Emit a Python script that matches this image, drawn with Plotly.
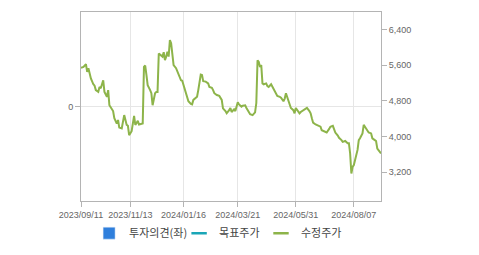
import plotly.graph_objects as go

# KRX weekday closures in the period (used as axis range breaks)
holidays = ["2023-09-28", "2023-09-29", "2023-10-02", "2023-10-03", "2023-10-09",
            "2023-12-25", "2023-12-29", "2024-01-01", "2024-02-09", "2024-02-12",
            "2024-03-01", "2024-04-10", "2024-05-01", "2024-05-06", "2024-05-15",
            "2024-06-06", "2024-08-15"]

dates = ["2023-09-11", "2023-09-13", "2023-09-15", "2023-09-18", "2023-09-19", "2023-09-21",
         "2023-09-25", "2023-09-26", "2023-09-27", "2023-10-05", "2023-10-06", "2023-10-10",
         "2023-10-12", "2023-10-13", "2023-10-17", "2023-10-18", "2023-10-19", "2023-10-23",
         "2023-10-24", "2023-10-25", "2023-10-27", "2023-10-30", "2023-10-31", "2023-11-02",
         "2023-11-03", "2023-11-06", "2023-11-08", "2023-11-09", "2023-11-10", "2023-11-14",
         "2023-11-15", "2023-11-16", "2023-11-17", "2023-11-21", "2023-11-22", "2023-11-27",
         "2023-11-28", "2023-11-29", "2023-11-30", "2023-12-01", "2023-12-05", "2023-12-06",
         "2023-12-07", "2023-12-11", "2023-12-12", "2023-12-13", "2023-12-14", "2023-12-15",
         "2023-12-19", "2023-12-20", "2023-12-21", "2023-12-22", "2023-12-26", "2023-12-27",
         "2023-12-28", "2024-01-02", "2024-01-04", "2024-01-08", "2024-01-10", "2024-01-12",
         "2024-01-15", "2024-01-17", "2024-01-19", "2024-01-22", "2024-01-24", "2024-01-25",
         "2024-01-26", "2024-01-30", "2024-01-31", "2024-02-01", "2024-02-05", "2024-02-06",
         "2024-02-07", "2024-02-13", "2024-02-15", "2024-02-16", "2024-02-20", "2024-02-21",
         "2024-02-22", "2024-02-26", "2024-02-28", "2024-03-04", "2024-03-05", "2024-03-07",
         "2024-03-08", "2024-03-12", "2024-03-13", "2024-03-14", "2024-03-18", "2024-03-19",
         "2024-03-21", "2024-03-22", "2024-03-26", "2024-03-27", "2024-03-29", "2024-04-01",
         "2024-04-03", "2024-04-04", "2024-04-08", "2024-04-11", "2024-04-12", "2024-04-15",
         "2024-04-16", "2024-04-17", "2024-04-18", "2024-04-19", "2024-04-22", "2024-04-24",
         "2024-04-25", "2024-04-26", "2024-04-30", "2024-05-02", "2024-05-07", "2024-05-09",
         "2024-05-13", "2024-05-14", "2024-05-17", "2024-05-20", "2024-05-21", "2024-05-23",
         "2024-05-24", "2024-05-27", "2024-05-29", "2024-05-30", "2024-05-31", "2024-06-04",
         "2024-06-05", "2024-06-07", "2024-06-11", "2024-06-13", "2024-06-14", "2024-06-18",
         "2024-06-19", "2024-06-20", "2024-06-21", "2024-06-25", "2024-06-27", "2024-07-01",
         "2024-07-02", "2024-07-04", "2024-07-08", "2024-07-10", "2024-07-11", "2024-07-15",
         "2024-07-16", "2024-07-17", "2024-07-19", "2024-07-22", "2024-07-24", "2024-07-25",
         "2024-07-29", "2024-07-30", "2024-07-31", "2024-08-01", "2024-08-02", "2024-08-05",
         "2024-08-06", "2024-08-07", "2024-08-08", "2024-08-12", "2024-08-13", "2024-08-14",
         "2024-08-19", "2024-08-20", "2024-08-21", "2024-08-23", "2024-08-26", "2024-08-28",
         "2024-08-29", "2024-09-02", "2024-09-03", "2024-09-04", "2024-09-06", "2024-09-09"]

adj_price = [5540, 5560, 5620, 5450, 5530, 5300,
             5170, 5140, 5040, 5000, 5110, 5080,
             5260, 5000, 4890, 5040, 4700, 4590,
             4570, 4410, 4290, 4370, 4200, 4180,
             4330, 4480, 4260, 4240, 4030, 4120,
             4290, 4460, 4260, 4350, 4270, 4290,
             5560, 5590, 5380, 5150, 5040, 4970,
             4700, 4970, 5000, 5000, 5860, 5840,
             5790, 5890, 5710, 5790, 5900, 5790,
             6160, 6090, 5600, 5530, 5380, 5260,
             5250, 5080, 4890, 4790, 4730, 4720,
             4820, 4870, 4890, 5040, 5390, 5380,
             5240, 5230, 5190, 5110, 5090, 5040,
             4970, 4930, 4910, 4820, 4630, 4570,
             4520, 4590, 4640, 4550, 4610, 4570,
             4770, 4720, 4670, 4690, 4700, 4640,
             4540, 4500, 4480, 4540, 4750, 5710,
             5670, 5560, 5600, 5190, 5170, 5190,
             5130, 5110, 5170, 5110, 5000, 4910,
             4890, 4870, 4790, 4850, 4970, 4820,
             4700, 4640, 4590, 4520, 4640, 4550,
             4520, 4550, 4590, 4610, 4640, 4570,
             4520, 4410, 4310, 4270, 4240, 4220,
             4140, 4110, 4090, 4170, 4220, 4240,
             4170, 4090, 4020, 3970, 3920, 3880,
             3900, 3870, 3850, 3850, 3620, 3170,
             3320, 3360, 3470, 3700, 3920, 3960,
             4070, 4260, 4220, 4120, 4090, 4070,
             3960, 3920, 3900, 3730, 3670, 3620]

tick_dates = ["2023-09-11", "2023-11-13", "2024-01-16", "2024-03-21", "2024-05-31", "2024-08-07"]
price_ticks = [3200, 4000, 4800, 5600, 6400]

series_names = ["투자의견(좌)", "목표주가", "수정주가"]
colors = ["#2f7fdc", "#1aa6b7", "#8db44a"]

axis_grey = "#b4b4b4"
font_grey = "#666666"
tick_font = dict(family="Liberation Sans, Arial, sans-serif", size=9, color=font_grey)


def legend_line_marker(color):
    return dict(symbol="line-ew", size=11, color=color, line=dict(color=color, width=2.5))


fig = go.Figure()
# 투자의견 (left axis) – no data in the period, legend entry only
fig.add_trace(go.Bar(x=[None], y=[None], name=series_names[0], marker_color=colors[0],
                     yaxis="y", legend="legend"))
# 목표주가 – no data in the period, legend entry only
fig.add_trace(go.Scatter(x=[None], y=[None], mode="markers", name=series_names[1],
                         marker=legend_line_marker(colors[1]), yaxis="y2", legend="legend2"))
# 수정주가 – the plotted line (legend handled by a short-line entry)
fig.add_trace(go.Scatter(x=dates, y=adj_price, mode="lines", name=series_names[2],
                         line=dict(color=colors[2], width=2), yaxis="y2", showlegend=False))
fig.add_trace(go.Scatter(x=[None], y=[None], mode="markers", name=series_names[2],
                         marker=legend_line_marker(colors[2]), yaxis="y2", legend="legend3"))


def legend_box(x_paper):
    return dict(orientation="h", x=x_paper, xanchor="left", y=-0.17, yanchor="middle",
                font=dict(family="Noto Sans CJK KR", size=11, color="#444444"),
                itemwidth=30, itemclick=False, bgcolor="rgba(0,0,0,0)")


fig.update_layout(
    width=479, height=255,
    margin=dict(l=81, r=98, t=12, b=54, autoexpand=False),
    paper_bgcolor="white", plot_bgcolor="white",
    font=dict(family="Liberation Sans, Arial, sans-serif", size=9, color=font_grey),
    showlegend=True,
    legend=legend_box(0.027),
    legend2=legend_box(0.327),
    legend3=legend_box(0.60),
    xaxis=dict(
        type="date",
        range=["2023-09-11", "2024-09-09"],
        rangebreaks=[dict(bounds=["sat", "mon"]), dict(values=holidays)],
        tickvals=tick_dates, tickformat="%Y/%m/%d", tickangle=0,
        automargin=False,
        showgrid=True, gridcolor="#e6e6e6", gridwidth=1,
        showline=True, linecolor=axis_grey, linewidth=1, mirror=True,
        ticks="outside", ticklen=5, tickcolor=axis_grey,
        tickfont=tick_font,
        zeroline=False,
    ),
    yaxis=dict(
        range=[-1, 1], tickvals=[0], ticktext=["0"], automargin=False,
        showgrid=True, gridcolor="#e6e6e6", zeroline=False,
        showline=True, linecolor=axis_grey, linewidth=1, mirror=True,
        ticks="outside", ticklen=5, tickcolor=axis_grey,
        tickfont=tick_font,
    ),
    yaxis2=dict(
        overlaying="y", side="right", automargin=False,
        range=[2555, 6790], tickvals=price_ticks, tickformat=",d",
        showgrid=False, zeroline=False,
        showline=True, linecolor=axis_grey, linewidth=1,
        ticks="outside", ticklen=5, tickcolor=axis_grey,
        tickfont=tick_font,
    ),
)

fig.write_html("out.html")
